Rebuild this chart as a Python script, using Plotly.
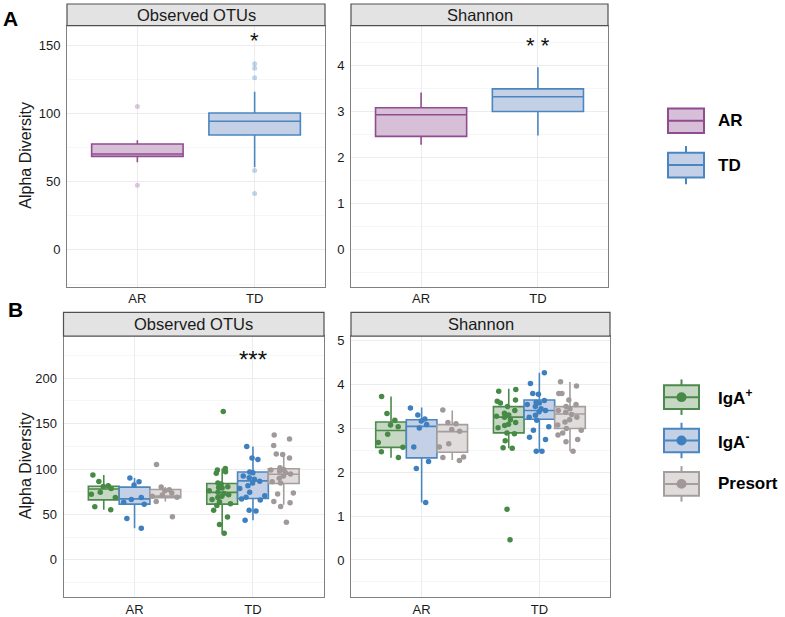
import plotly.graph_objects as go

W, H = 785, 617

groups = ["AR", "TD"]
fractions = ["IgA+", "IgA-", "Presort"]

# box stats are [lower whisker, q1, median, q3, upper whisker]
# panel A - observed OTUs
a_obs_ar = [64.2, 68.5, 70.2, 77.5, 80.3]
a_obs_td = [60.6, 84.1, 94.2, 100.3, 115.9]
a_obs_ar_out = [105.1, 47.4]
a_obs_td_out = [136.3, 133.1, 126.0, 58.2, 41.4]
# panel A - shannon
a_sha_ar = [2.28, 2.46, 2.93, 3.08, 3.41]
a_sha_td = [2.48, 3.00, 3.32, 3.49, 3.96]

# panel B - observed OTUs, stats per fraction for [AR, TD]
b_obs_pos = [[55.2, 66.0, 78.0, 81.0, 93.5], [29.2, 61.3, 74.3, 84.1, 100.7]]
b_obs_neg = [[34.7, 61.3, 67.1, 80.1, 90.2], [43.6, 67.5, 87.0, 96.7, 124.9]]
b_obs_pre = [[64.2, 68.5, 70.2, 77.5, 80.3], [60.6, 84.1, 94.2, 100.3, 115.9]]
b_obs_pos_ar = [93.5, 86.2, 81.6, 80.8, 78.5, 74.3, 72.1, 68.6, 58.5, 55.2]
b_obs_pos_td = [163.5, 100.7, 98.9, 97.1, 95.3, 84.5, 83.4, 80.5, 79.7, 79.0, 76.1, 74.3,
                73.0, 71.8, 70.0, 68.6, 66.4, 64.0, 61.7, 59.9, 54.5, 47.2, 39.0, 29.2]
b_obs_neg_ar = [90.2, 85.9, 82.3, 68.6, 66.4, 63.5, 61.3, 45.5, 34.7]
b_obs_neg_td = [124.9, 112.2, 110.4, 96.7, 96.0, 92.4, 90.5, 88.8, 86.5, 84.5, 81.6, 78.7,
                74.3, 70.7, 68.9, 67.1, 66.0, 54.5, 53.8, 43.6]
b_obs_pre_ar = [105.1, 80.3, 77.2, 76.0, 73.6, 71.5, 70.0, 69.0, 64.2, 47.4]
b_obs_pre_td = [137.5, 133.2, 126.0, 116.5, 115.9, 112.2, 101.4, 99.5, 98.9, 97.5, 96.0, 94.5,
                92.4, 89.9, 86.0, 84.5, 73.6, 72.5, 64.2, 62.8, 58.8, 41.5]

# panel B - shannon
b_sha_pos = [[2.33, 2.57, 2.955, 3.15, 3.73], [2.55, 2.90, 3.26, 3.50, 3.91]]
b_sha_neg = [[1.31, 2.33, 3.05, 3.20, 3.48], [2.48, 3.21, 3.41, 3.65, 4.27]]
b_sha_pre = [[2.28, 2.46, 2.93, 3.09, 3.41], [2.48, 3.00, 3.33, 3.50, 4.06]]
b_sha_pos_ar = [3.73, 3.34, 3.19, 3.08, 3.04, 2.87, 2.68, 2.57, 2.47, 2.34]
b_sha_pos_td = [3.89, 3.85, 3.65, 3.62, 3.58, 3.50, 3.41, 3.35, 3.31, 3.28, 3.26, 3.20,
                3.14, 3.10, 3.07, 3.02, 2.90, 2.88, 2.72, 2.56, 2.55, 1.16, 0.46]
b_sha_neg_ar = [3.47, 3.31, 3.22, 3.17, 3.09, 3.01, 2.58, 2.25, 2.09, 1.31]
b_sha_neg_td = [4.27, 4.03, 3.80, 3.78, 3.64, 3.60, 3.58, 3.55, 3.50, 3.45, 3.41, 3.38,
                3.30, 3.26, 3.19, 3.04, 2.96, 2.80, 2.75, 2.48, 2.48]
b_sha_pre_ar = [3.42, 3.14, 3.11, 2.98, 2.94, 2.65, 2.58, 2.35, 2.34, 2.27]
b_sha_pre_td = [4.07, 3.97, 3.80, 3.80, 3.65, 3.55, 3.50, 3.45, 3.41, 3.37, 3.32, 3.26,
                3.20, 3.15, 3.08, 3.00, 2.96, 2.90, 2.85, 2.75, 2.70, 2.48]

# significance marks
sig_text = ["*", "* *", "***"]
sig_y = [153, 4.44, 225]

FONT = "Liberation Sans, Arial, Helvetica, sans-serif"
purple, purple_fill = "#8f4d8f", "#d8bfd8"
blue, blue_fill = "#4a86c0", "#c3d0e6"
green, green_fill = "#4b8a4a", "#c6d7c3"
grey, grey_fill = "#a59e9e", "#dfdcdb"
pt_green, pt_blue, pt_grey = "#468a45", "#3d7fbf", "#a19999"


def fx(px):
    return px / W


def fy(py):
    return 1 - py / H


fig = go.Figure()


def stat_box(xa, ya, cats, stats, line, fill, group):
    fig.add_trace(go.Box(
        x=cats,
        lowerfence=[s[0] for s in stats],
        q1=[s[1] for s in stats],
        median=[s[2] for s in stats],
        q3=[s[3] for s in stats],
        upperfence=[s[4] for s in stats],
        xaxis=xa, yaxis=ya, offsetgroup=group,
        fillcolor=fill, line=dict(color=line, width=1.6),
        whiskerwidth=0, boxpoints=False, showlegend=False,
    ))


def jitter_pts(xa, ya, pts_ar, pts_td, color, group):
    fig.add_trace(go.Box(
        x=["AR"] * len(pts_ar) + ["TD"] * len(pts_td),
        y=pts_ar + pts_td,
        xaxis=xa, yaxis=ya, offsetgroup=group,
        boxpoints="all", jitter=1.0, pointpos=0,
        fillcolor="rgba(0,0,0,0)", line=dict(color="rgba(0,0,0,0)", width=0),
        marker=dict(color=color, size=5.5),
        showlegend=False,
    ))


# panel A
stat_box("x", "y", ["AR"], [a_obs_ar], purple, purple_fill, "a")
stat_box("x", "y", ["TD"], [a_obs_td], blue, blue_fill, "a")
fig.add_trace(go.Scatter(x=["AR"] * len(a_obs_ar_out), y=a_obs_ar_out, mode="markers",
                         marker=dict(color="rgba(143,77,143,0.3)", size=5),
                         xaxis="x", yaxis="y", showlegend=False))
fig.add_trace(go.Scatter(x=["TD"] * len(a_obs_td_out), y=a_obs_td_out, mode="markers",
                         marker=dict(color="rgba(74,134,192,0.35)", size=5),
                         xaxis="x", yaxis="y", showlegend=False))
stat_box("x2", "y2", ["AR"], [a_sha_ar], purple, purple_fill, "a")
stat_box("x2", "y2", ["TD"], [a_sha_td], blue, blue_fill, "a")

# panel B
stat_box("x3", "y3", groups, b_obs_pos, green, green_fill, "g")
stat_box("x3", "y3", groups, b_obs_neg, blue, blue_fill, "b")
stat_box("x3", "y3", groups, b_obs_pre, grey, grey_fill, "p")
jitter_pts("x3", "y3", b_obs_pos_ar, b_obs_pos_td, pt_green, "g")
jitter_pts("x3", "y3", b_obs_neg_ar, b_obs_neg_td, pt_blue, "b")
jitter_pts("x3", "y3", b_obs_pre_ar, b_obs_pre_td, pt_grey, "p")

stat_box("x4", "y4", groups, b_sha_pos, green, green_fill, "g")
stat_box("x4", "y4", groups, b_sha_neg, blue, blue_fill, "b")
stat_box("x4", "y4", groups, b_sha_pre, grey, grey_fill, "p")
jitter_pts("x4", "y4", b_sha_pos_ar, b_sha_pos_td, pt_green, "g")
jitter_pts("x4", "y4", b_sha_neg_ar, b_sha_neg_td, pt_blue, "b")
jitter_pts("x4", "y4", b_sha_pre_ar, b_sha_pre_td, pt_grey, "p")

# panel geometry in pixels: (x0, x1, y_top, y_bottom, strip_top)
panels = [
    (67, 325, 23, 288, 1),
    (351, 608, 23, 288, 1),
    (63.5, 324, 338, 603, 314),
    (351, 610, 338, 603, 314),
]
yranges = [[-27, 164.2], [-0.8, 4.86], [-41.2, 246.5], [-0.85, 5.11]]
ydticks = [50, 1, 50, 1]
strip_titles = ["Observed OTUs", "Shannon", "Observed OTUs", "Shannon"]

axis_common = dict(showline=True, mirror=True, linecolor="#808080", linewidth=1,
                   showgrid=True, gridcolor="#ececec", gridwidth=1, zeroline=False,
                   ticks="", tickfont=dict(size=13, color="#1a1a1a", family=FONT))

layout = dict(
    width=W, height=H, margin=dict(l=0, r=0, t=0, b=0),
    paper_bgcolor="white", plot_bgcolor="white",
    boxmode="group", boxgap=0.22, boxgroupgap=0,
    font=dict(family=FONT, color="#1a1a1a"),
    showlegend=False,
)

shapes = []
annotations = []
for i, (x0, x1, yt, yb, st) in enumerate(panels):
    n = "" if i == 0 else str(i + 1)
    layout["xaxis" + n] = dict(axis_common, domain=[fx(x0), fx(x1)], anchor="y" + n,
                               type="category", categoryorder="array", categoryarray=groups,
                               range=[-0.6, 1.6])
    layout["yaxis" + n] = dict(axis_common, domain=[fy(yb), fy(yt)], anchor="x" + n,
                               range=yranges[i], dtick=ydticks[i], tick0=0,
                               ticklabelstandoff=3,
                               minor=dict(dtick=ydticks[i] / 2, showgrid=True,
                                          gridcolor="#f6f6f6"))
    shapes.append(dict(type="rect", xref="paper", yref="paper",
                       x0=fx(x0), x1=fx(x1), y0=fy(yt), y1=fy(st),
                       fillcolor="#e3e3e3", line=dict(color="#505050", width=1.2), layer="above"))
    annotations.append(dict(xref="paper", yref="paper", x=fx((x0 + x1) / 2), y=fy((yt + st) / 2),
                            text=strip_titles[i], showarrow=False, xanchor="center", yanchor="middle",
                            font=dict(size=16.5, color="#1a1a1a")))

# significance stars
for axn, txt, yv, sz, ys in zip(["", "2", "3"], sig_text, sig_y, [22, 22, 24], [0, 0, -4]):
    annotations.append(dict(xref="x" + axn, yref="y" + axn, x="TD", y=yv, text=txt,
                            showarrow=False, xanchor="center", yanchor="middle", yshift=ys,
                            font=dict(size=sz, color="#111111")))

# axis titles and panel letters
for xp, yp in [(26, 155), (25, 470)]:
    annotations.append(dict(xref="paper", yref="paper", x=fx(xp), y=fy(yp), text="Alpha Diversity",
                            textangle=-90, showarrow=False, xanchor="center", yanchor="middle",
                            font=dict(size=16, color="#1a1a1a")))
for letter, xp, yp in [("A", 1, 16), ("B", 6, 311)]:
    annotations.append(dict(xref="paper", yref="paper", x=fx(xp), y=fy(yp), text="<b>%s</b>" % letter,
                            xanchor="left", yanchor="middle", showarrow=False,
                            font=dict(size=21, color="#000000")))


# legend keys drawn as small boxplot glyphs
def key(cx, cy, w, h, whisk, line, fill, dot=None):
    if whisk:
        shapes.append(dict(type="line", xref="paper", yref="paper", x0=fx(cx), x1=fx(cx),
                           y0=fy(cy - whisk), y1=fy(cy + whisk), line=dict(color=line, width=2)))
    shapes.append(dict(type="rect", xref="paper", yref="paper",
                       x0=fx(cx - w / 2), x1=fx(cx + w / 2), y0=fy(cy + h / 2), y1=fy(cy - h / 2),
                       fillcolor=fill, line=dict(color=line, width=2)))
    shapes.append(dict(type="line", xref="paper", yref="paper", x0=fx(cx - w / 2), x1=fx(cx + w / 2),
                       y0=fy(cy), y1=fy(cy), line=dict(color=line, width=2)))
    if dot:
        shapes.append(dict(type="circle", xref="paper", yref="paper",
                           x0=fx(cx - 5), x1=fx(cx + 5), y0=fy(cy + 5), y1=fy(cy - 5),
                           fillcolor=dot, line=dict(color=dot, width=0)))


legend_a = [("AR", 119.5, 0, purple, purple_fill), ("TD", 164.5, 19.5, blue, blue_fill)]
for lab, cy, wh, ln, fl in legend_a:
    key(686, cy, 36, 25, wh, ln, fl)
    annotations.append(dict(xref="paper", yref="paper", x=fx(716), y=fy(cy), text="<b>%s</b>" % lab,
                            xanchor="left", yanchor="middle", showarrow=False,
                            font=dict(size=17, color="#000000")))

legend_b = [("IgA<sup>+</sup>", 400, green, green_fill, pt_green),
            ("IgA<sup>-</sup>", 444, blue, blue_fill, pt_blue),
            ("Presort", 488, grey, grey_fill, pt_grey)]
for lab, cy, ln, fl, dc in legend_b:
    key(681.5, cy, 35, 24, 18, ln, fl, dot=dc)
    annotations.append(dict(xref="paper", yref="paper", x=fx(716), y=fy(cy), text="<b>%s</b>" % lab,
                            xanchor="left", yanchor="middle", showarrow=False,
                            font=dict(size=17, color="#000000")))

layout["shapes"] = shapes
layout["annotations"] = annotations
fig.update_layout(**layout)

# page body margin would shift the fixed-size figure, so drop it
fig.write_html("out.html", config={"displayModeBar": False},
               post_script="document.body.style.margin='0';")
